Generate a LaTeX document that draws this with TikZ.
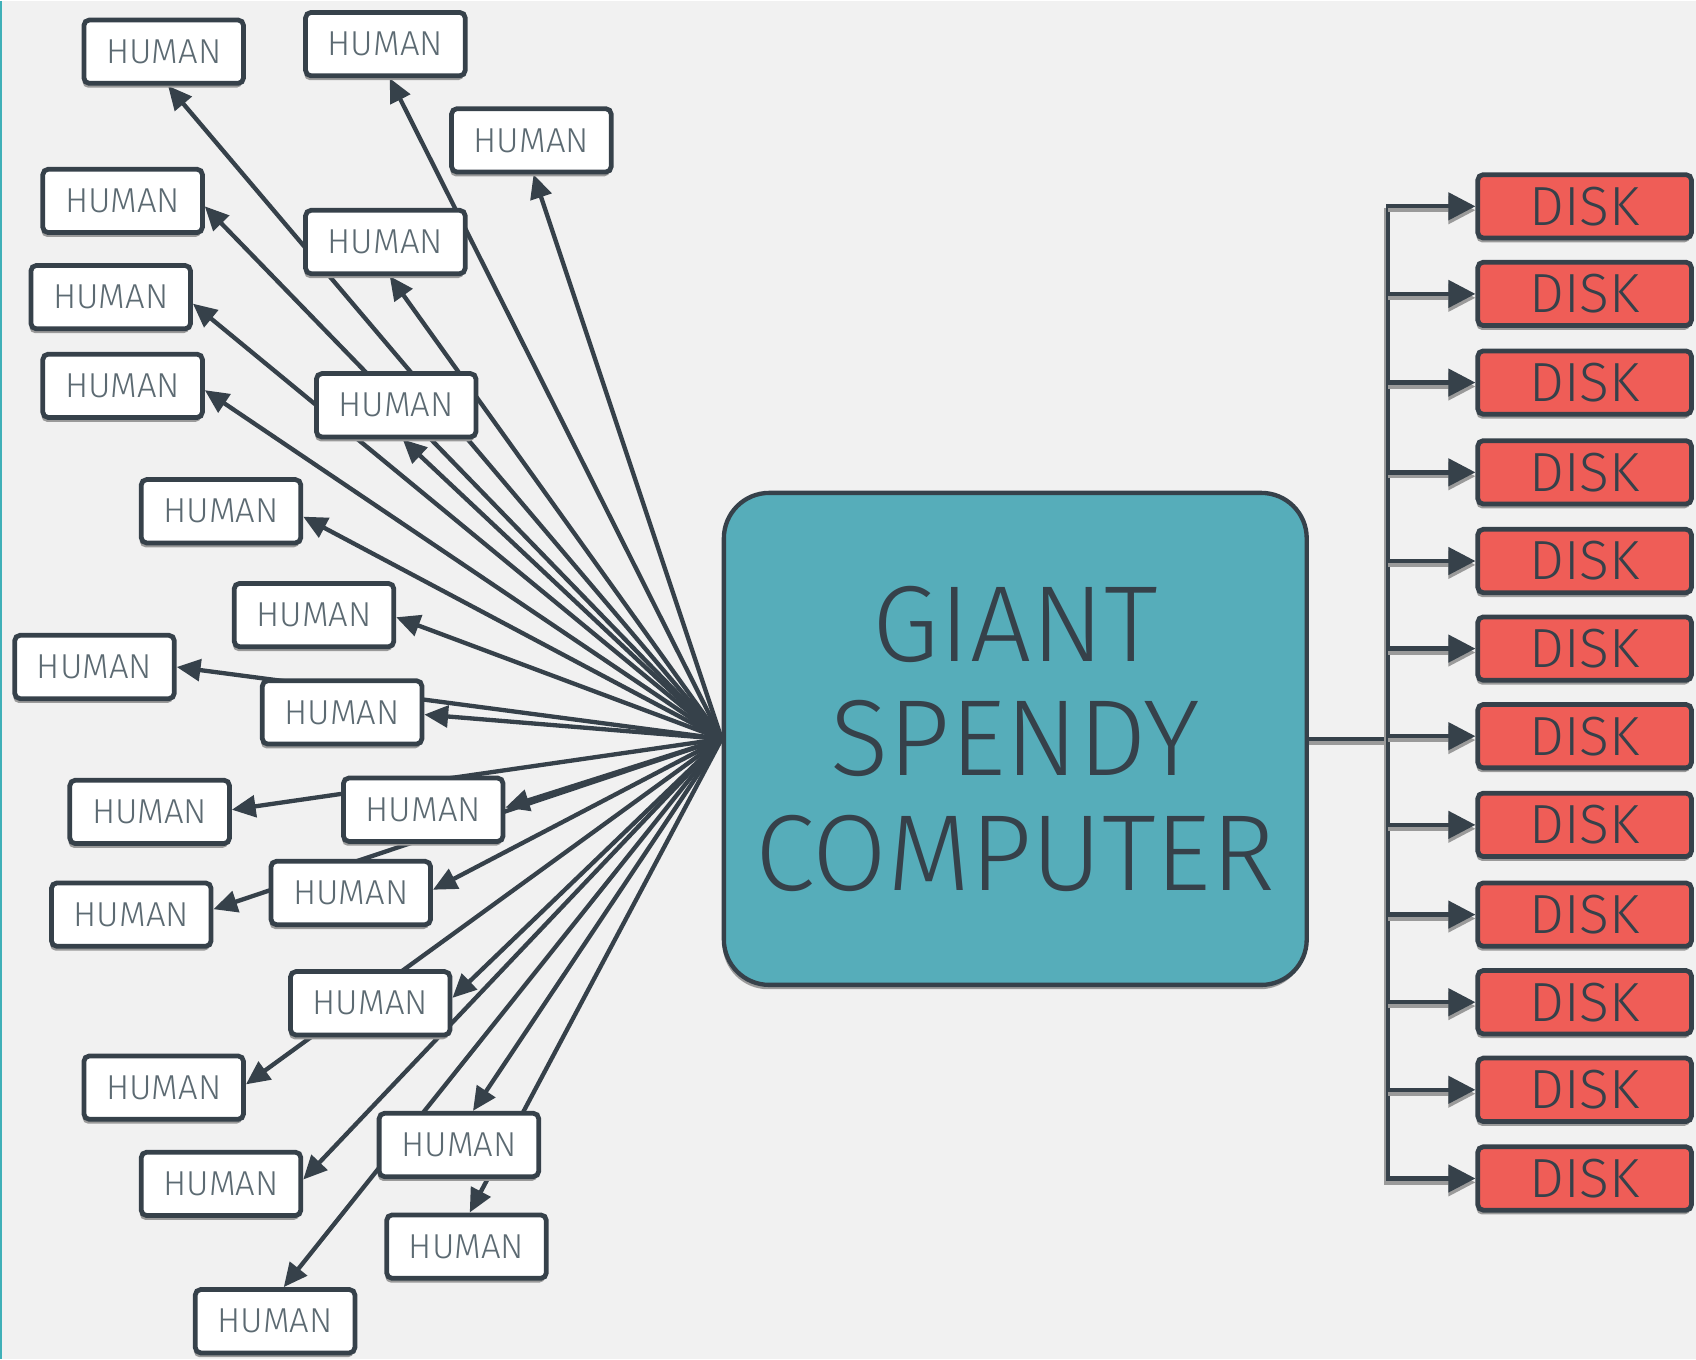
\documentclass[tikz,border=0pt]{standalone}
\usepackage{fontspec}
\setmainfont{Fira Sans}[UprightFont={* Light}]
\usetikzlibrary{shadows,calc,arrows.meta}
\definecolor{bgc}{HTML}{F1F1F1}
\definecolor{ink}{HTML}{36414A}
\definecolor{humantext}{HTML}{5C6A72}
\definecolor{compfill}{HTML}{56ADBA}
\definecolor{diskfill}{HTML}{EF5D57}
\definecolor{shade}{HTML}{9A9A9A}
\definecolor{edgeline}{HTML}{3FB0B8}
\pgfdeclarelayer{bg}
\pgfdeclarelayer{wires}
\pgfsetlayers{bg,wires,main}

\tikzset{
  boxshadow/.style={drop shadow={shadow xshift=-0.6pt, shadow yshift=-2pt, fill=shade, opacity=1}},
  human/.style={draw=ink, line width=2.2pt, fill=white, rounded corners=2.5pt,
    minimum width=73.8pt, minimum height=29.3pt, inner sep=0pt, text=humantext,
    font=\fontsize{16}{18}\selectfont, boxshadow},
  disk/.style={draw=ink, line width=2.2pt, fill=diskfill, rounded corners=2.5pt,
    minimum width=98.8pt, minimum height=29.3pt, inner sep=0pt, text=ink,
    font=\fontsize{25.5}{28}\selectfont, boxshadow},
  computer/.style={draw=ink, line width=2pt, fill=compfill, rounded corners=21pt,
    minimum width=269.5pt, minimum height=227.5pt, text=ink, align=center,
    font=\fontsize{50}{53}\selectfont, boxshadow},
  wire/.style={draw=ink, line width=2pt},
  feed/.style={wire, -{Triangle[length=11pt,width=10pt]}},
  diskfeed/.style={wire, -{Triangle[length=12.5pt,width=12.5pt]},
    preaction={draw=shade, line width=2pt, transform canvas={yshift=-1.8pt}}},
}

\begin{document}
\begin{tikzpicture}[x=0.5pt, y=-0.5pt]
  % canvas
  \begin{pgfonlayer}{bg}
    \fill[bgc] (0,0) rectangle (1568,1256);
    \draw[edgeline, line width=0.8pt] (0.4,0) -- (0.4,1256);
  \end{pgfonlayer}
  \useasboundingbox (0,0) rectangle (1568,1256);

  % the central machine
  \node[computer] (comp) at (938.5,682.5) {GIANT\\SPENDY\\COMPUTER};

  % users
  \node[human] (h1)  at (151,47)   {HUMAN};
  \node[human] (h2)  at (356,40)   {HUMAN};
  \node[human] (h3)  at (491,129)  {HUMAN};
  \node[human] (h4)  at (113,185)  {HUMAN};
  \node[human] (h5)  at (356,223)  {HUMAN};
  \node[human] (h6)  at (102,274)  {HUMAN};
  \node[human] (h7)  at (113,356)  {HUMAN};
  \node[human] (h8)  at (366,374)  {HUMAN};
  \node[human] (h9)  at (204,472)  {HUMAN};
  \node[human] (h10) at (290,568)  {HUMAN};
  \node[human] (h11) at (87,616)   {HUMAN};
  \node[human] (h12) at (316,658)  {HUMAN};
  \node[human] (h13) at (138,750)  {HUMAN};
  \node[human] (h14) at (391,748)  {HUMAN};
  \node[human] (h15) at (121,845)  {HUMAN};
  \node[human] (h16) at (324,825)  {HUMAN};
  \node[human] (h17) at (342,927)  {HUMAN};
  \node[human] (h18) at (151,1005) {HUMAN};
  \node[human] (h19) at (424,1058) {HUMAN};
  \node[human] (h20) at (204,1094) {HUMAN};
  \node[human] (h21) at (431,1152) {HUMAN};
  \node[human] (h22) at (254,1221) {HUMAN};

  % storage
  \foreach \i/\y in {1/190,2/271,3/353,4/436,5/518,6/599,7/680,8/762,9/845,10/926,11/1007,12/1089}
    \node[disk] (d\i) at (1465,\y) {DISK};

  \coordinate (busx) at (1283,0);
  \coordinate (bustop) at (1283,188);
  \coordinate (busbot) at (1283,1091);

  \begin{pgfonlayer}{wires}
    % fan-out to the users: node / anchor / x offset / y offset (pt)
    \foreach \n/\a/\dx/\dy in {
      h1/south/2/0, h2/south/2/0, h3/south/1/0,
      h4/east/0/-2.5, h5/south/2/0, h6/east/0/-3,
      h7/east/0/-2, h8/south/3/0, h9/east/0/-2.5,
      h10/east/0/-1, h11/east/0/0, h12/east/0/-1,
      h13/east/0/1, h14/east/0/1, h15/east/0/2.5,
      h16/east/0/1.5, h17/east/0/2.5, h18/east/0/1.5,
      h19/north/6.5/0, h20/east/0/2, h21/north/1.5/0,
      h22/north/4/0}
      \draw[feed] (comp.west) -- ([xshift=\dx pt, yshift=\dy pt]\n.\a);

    % storage bus
    \draw[wire, preaction={draw=shade, line width=2pt, transform canvas={yshift=-1.8pt}}]
      (comp.east) -- (comp.east -| busx);
    \draw[wire, preaction={draw=shade, line width=2pt, transform canvas={xshift=-1pt,yshift=-1.8pt}}]
      (bustop) -- (busbot);
    \foreach \i in {1,...,12}
      \draw[diskfeed] (d\i.west -| busx) -- (d\i.west);
  \end{pgfonlayer}
\end{tikzpicture}
\end{document}
